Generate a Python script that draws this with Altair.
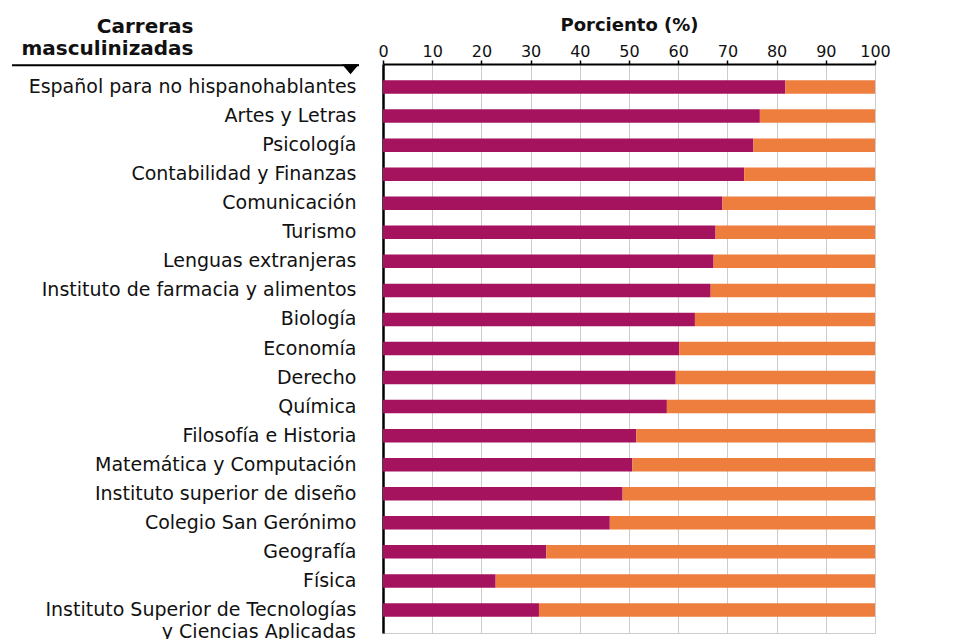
import altair as alt
import pandas as pd

carreras = [
    "Español para no hispanohablantes",
    "Artes y Letras",
    "Psicología",
    "Contabilidad y Finanzas",
    "Comunicación",
    "Turismo",
    "Lenguas extranjeras",
    "Instituto de farmacia y alimentos",
    "Biología",
    "Economía",
    "Derecho",
    "Química",
    "Filosofía e Historia",
    "Matemática y Computación",
    "Instituto superior de diseño",
    "Colegio San Gerónimo",
    "Geografía",
    "Física",
    "Instituto Superior de Tecnologías y Ciencias Aplicadas",
]
mujeres = [81.8, 76.6, 75.3, 73.4, 69.0, 67.6, 67.2, 66.6, 63.4, 60.2,
           59.5, 57.7, 51.5, 50.7, 48.7, 46.1, 33.2, 22.9, 31.7]
grupos = ["Mujeres", "Hombres"]
colores = ["#A5135F", "#EE7E3E"]
x_ticks = [0, 10, 20, 30, 40, 50, 60, 70, 80, 90, 100]
multi_key = "Instituto Superior de Tecnologías y Ciencias Aplicadas"
multi_lines = ["Instituto Superior de Tecnologías", "y Ciencias Aplicadas"]
header = ["Carreras", "masculinizadas"]

rows = []
for c, v in zip(carreras, mujeres):
    rows.append({"carrera": c, "grupo": grupos[0], "ini": 0.0, "fin": v})
    rows.append({"carrera": c, "grupo": grupos[1], "ini": v, "fin": 100.0})
df = pd.DataFrame(rows)

FONT = "DejaVu Sans"
TXT = "#111111"

y_enc = alt.Y(
    "carrera:N",
    sort=carreras,
    scale=alt.Scale(paddingInner=0.535, paddingOuter=0.56),
    axis=alt.Axis(
        title=header,
        titleAngle=0,
        titleAlign="right",
        titleBaseline="alphabetic",
        titleX=-190,
        titleY=-32,
        titleLineHeight=22,
        titleFont=FONT,
        titleFontSize=20,
        titleFontWeight="bold",
        titleColor=TXT,
        labelExpr=f"datum.value == '{multi_key}' ? '{multi_lines[0]}' : datum.value",
        labelFont=FONT,
        labelFontSize=19,
        labelColor=TXT,
        labelPadding=27,
        labelLimit=500,
        ticks=False,
        domainColor="#000000",
        domainWidth=2.5,
        grid=False,
    ),
)

bars = alt.Chart(df).mark_bar(size=13.5).encode(
    x=alt.X(
        "ini:Q",
        scale=alt.Scale(domain=[0, 100], nice=False),
        axis=alt.Axis(
            orient="top",
            values=x_ticks,
            title="Porciento (%)",
            titleFont=FONT,
            titleFontSize=18,
            titleFontWeight="bold",
            titleColor=TXT,
            titlePadding=9,
            labelFont=FONT,
            labelFontSize=16,
            labelColor=TXT,
            labelPadding=1,
            labelFlush=False,
            tickSize=4,
            tickColor="#000000",
            tickWidth=1.5,
            domainColor="#000000",
            domainWidth=2,
            grid=True,
            gridColor="#cccccc",
            gridWidth=1,
        ),
    ),
    x2="fin:Q",
    y=y_enc,
    color=alt.Color("grupo:N", scale=alt.Scale(domain=grupos, range=colores), legend=None),
)

second_line = alt.Chart(pd.DataFrame({"carrera": [multi_key], "texto": [multi_lines[1]]})).mark_text(
    align="right", baseline="middle", font=FONT, fontSize=19, color=TXT, dy=22
).encode(
    x=alt.value(-27),
    y=alt.Y("carrera:N", sort=carreras),
    text="texto:N",
)

rule = alt.Chart(pd.DataFrame({"k": [0]})).mark_rule(color="#000000", strokeWidth=2).encode(
    x=alt.value(-371), x2=alt.value(-24), y=alt.value(1.3)
)
tri = alt.Chart(pd.DataFrame({"k": [0]})).mark_point(
    shape="M-1,-0.59L1,-0.59L0,0.59Z", filled=True, color="#000000", size=289, opacity=1
).encode(x=alt.value(-32.5), y=alt.value(5.3))

chart = alt.layer(bars, second_line, rule, tri).properties(
    width=492,
    height=569,
    autosize=alt.AutoSizeParams(type="none"),
    padding={"left": 375, "top": 56, "right": 20, "bottom": 20},
    background="#ffffff",
).configure_view(stroke="#cccccc", strokeWidth=1)

chart.save("out.html", embed_options={"renderer": "svg", "actions": False})
